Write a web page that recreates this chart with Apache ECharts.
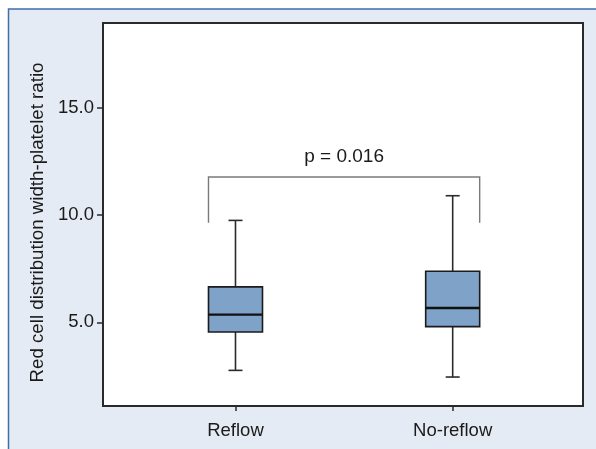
<!DOCTYPE html>
<html>
<head>
<meta charset="utf-8">
<script src="https://cdn.jsdelivr.net/npm/echarts@6/dist/echarts.min.js"></script>
<style>
html,body{margin:0;padding:0;background:#fff;}
#chart{width:596px;height:449px;}
</style>
</head>
<body>
<div id="chart"></div>
<script>
// ---- data ----
const categories = ['Reflow', 'No-reflow'];
const whiskerLow  = [2.76, 2.45];
const q1Values    = [4.55, 4.80];
const medians     = [5.36, 5.67];
const q3Values    = [6.65, 7.38];
const whiskerHigh = [9.75, 10.9];
const yTickValues = [5, 10, 15];
const bracketLow  = 9.64;
const bracketHigh = 11.77;
const pValueText  = 'p = 0.016';

const FONT = '"Liberation Sans", Arial, sans-serif';
const BOX_W = 54;
const CAP_W = 14;

const boxData = categories.map((c, i) => [i + 1, whiskerLow[i], q1Values[i], medians[i], q3Values[i], whiskerHigh[i]]);

const chart = echarts.init(document.getElementById('chart'), null, {renderer: 'canvas'});

const option = {
  animation: false,
  graphic: [{
    type: 'rect', z: -10, silent: true,
    shape: {x: 8.5, y: 9, width: 700, height: 600},
    style: {fill: '#e5ebf4', stroke: '#3f6ea8', lineWidth: 1.5}
  }],
  grid: {
    left: 103, top: 23, right: 13, bottom: 43,
    show: true, backgroundColor: '#ffffff', borderColor: '#2a2a2a', borderWidth: 2
  },
  xAxis: {
    type: 'value', min: 0.39, max: 2.6,
    splitLine: {show: false},
    axisLine: {show: true, onZero: false, lineStyle: {color: '#2a2a2a', width: 2}},
    axisTick: {show: true, customValues: [1, 2], length: 5, lineStyle: {color: '#2a2a2a', width: 1.5}},
    axisLabel: {
      customValues: [1, 2], margin: 15, color: '#1a1a1a', fontSize: 18.5, fontFamily: FONT,
      formatter: v => categories[Math.round(v) - 1] || ''
    }
  },
  yAxis: {
    type: 'value', min: 1.1, max: 18.95,
    name: 'Red cell distribution width-platelet ratio',
    nameLocation: 'middle', nameGap: 56, nameRotate: 90,
    nameTextStyle: {color: '#1a1a1a', fontSize: 18.7, fontFamily: FONT, padding: [0, 16, 0, 0]},
    splitLine: {show: false},
    axisLine: {show: true, lineStyle: {color: '#2a2a2a', width: 2}},
    axisTick: {show: true, customValues: yTickValues, length: 6, lineStyle: {color: '#2a2a2a', width: 1.5}},
    axisLabel: {
      customValues: yTickValues, margin: 9, color: '#1a1a1a', fontSize: 18.5, fontFamily: FONT,
      formatter: v => v.toFixed(1)
    }
  },
  series: [{
    type: 'custom',
    data: boxData,
    renderItem: function (params, api) {
      const x = api.value(0);
      const pLo = api.coord([x, api.value(1)]);
      const pQ1 = api.coord([x, api.value(2)]);
      const pMd = api.coord([x, api.value(3)]);
      const pQ3 = api.coord([x, api.value(4)]);
      const pHi = api.coord([x, api.value(5)]);
      const cx = pMd[0];
      const wl = {stroke: '#2b2b2b', lineWidth: 1.6};
      return {
        type: 'group',
        children: [
          {type: 'line', shape: {x1: cx, y1: pQ3[1], x2: cx, y2: pHi[1]}, style: wl},
          {type: 'line', shape: {x1: cx, y1: pQ1[1], x2: cx, y2: pLo[1]}, style: wl},
          {type: 'line', shape: {x1: cx - CAP_W / 2, y1: pHi[1], x2: cx + CAP_W / 2, y2: pHi[1]}, style: wl},
          {type: 'line', shape: {x1: cx - CAP_W / 2, y1: pLo[1], x2: cx + CAP_W / 2, y2: pLo[1]}, style: wl},
          {type: 'rect', shape: {x: cx - BOX_W / 2, y: pQ3[1], width: BOX_W, height: pQ1[1] - pQ3[1]},
           style: {fill: '#7fa3c8', stroke: '#1b1b1b', lineWidth: 1.6}},
          {type: 'line', shape: {x1: cx - BOX_W / 2, y1: pMd[1], x2: cx + BOX_W / 2, y2: pMd[1]},
           style: {stroke: '#111', lineWidth: 2.4}}
        ]
      };
    }
  }, {
    type: 'custom',
    data: [[1, 2, bracketLow, bracketHigh]],
    renderItem: function (params, api) {
      const a = api.coord([api.value(0), api.value(3)]);
      const b = api.coord([api.value(1), api.value(3)]);
      const lo = api.coord([api.value(0), api.value(2)]);
      const x1 = a[0] - BOX_W / 2, x2 = b[0] + BOX_W / 2;
      return {
        type: 'group',
        children: [
          {type: 'polyline', shape: {points: [[x1, lo[1]], [x1, a[1]], [x2, a[1]], [x2, lo[1]]]},
           style: {stroke: '#7a7a7a', lineWidth: 1.4, fill: 'none'}},
          {type: 'text', style: {text: pValueText, x: (x1 + x2) / 2, y: a[1] - 20, align: 'center', verticalAlign: 'middle',
            fill: '#1a1a1a', font: '19px ' + FONT}}
        ]
      };
    }
  }]
};
chart.setOption(option);
</script>
</body>
</html>
